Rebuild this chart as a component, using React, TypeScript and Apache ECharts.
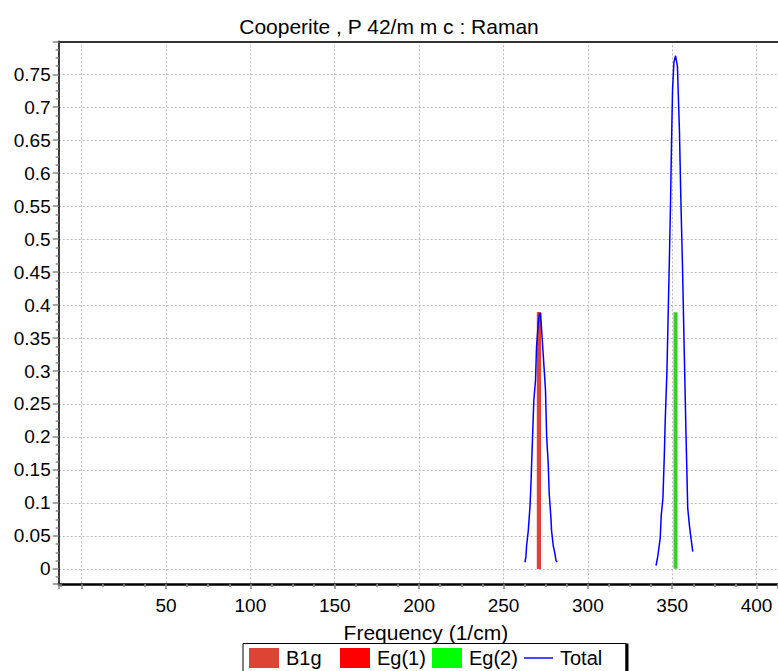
import React, { useEffect, useRef } from "react";
import * as echarts from "echarts";

const chartTitle = "Cooperite , P 42/m m c : Raman";
const xAxisName = "Frequency (1/cm)";

const modeNames = ["Eg(1)", "Eg(2)", "B1g"];
const modeFreqs = [271, 352, 271];
const modeIntensities = [0.389, 0.389, 0.389];
const modeColors = ["#FF0000", "#3ACC28", "#DC4433"];

const legendNames = ["B1g", "Eg(1)", "Eg(2)", "Total"];
const legendColors = ["#DC4433", "#FF0000", "#00FF00", "#0000FF"];

const totalFreq1 = [262.7, 263.3, 263.7, 264.7, 265.7, 266.3, 266.7, 267.3, 268.0, 269.0, 269.6, 270.6, 271.2, 272.0, 272.6, 273.5, 274.9, 275.6, 276.5, 277.1, 278.1, 278.5, 279.5, 280.5, 281.1, 281.8];
const totalVal1 = [0.010, 0.018, 0.035, 0.058, 0.094, 0.129, 0.160, 0.205, 0.256, 0.286, 0.337, 0.372, 0.385, 0.388, 0.362, 0.327, 0.271, 0.200, 0.160, 0.114, 0.078, 0.058, 0.035, 0.023, 0.013, 0.010];

const totalFreq2 = [340.4, 341.4, 342.9, 343.5, 344.5, 345.3, 345.9, 346.9, 347.6, 348.4, 349.0, 349.6, 350.2, 351.0, 352.0, 353.1, 354.3, 355.1, 356.1, 357.1, 358.2, 359.2, 360.2, 361.2, 362.2];
const totalVal2 = [0.005, 0.018, 0.047, 0.081, 0.107, 0.170, 0.228, 0.301, 0.385, 0.479, 0.553, 0.647, 0.726, 0.768, 0.778, 0.762, 0.663, 0.563, 0.458, 0.333, 0.202, 0.092, 0.066, 0.045, 0.026];

const FONT = "'Liberation Sans', Arial, Helvetica, sans-serif";

export default function App() {
  const ref = useRef<HTMLDivElement>(null);

  useEffect(() => {
    if (!ref.current) return;
    const chart = echarts.init(ref.current, null, { renderer: "svg" });

    const xMin = -13.6;
    const xMax = 412.7;
    const yMin = -0.023;
    const yMax = 0.8;

    const barSeries = modeNames.map((name, i) => ({
      type: "bar",
      name,
      data: [[modeFreqs[i], modeIntensities[i]]],
      barWidth: 4,
      barGap: "-100%",
      itemStyle: { color: modeColors[i] },
      z: 2,
    }));

    const lineSeries = [
      totalFreq1.map((f, i) => [f, totalVal1[i]]),
      totalFreq2.map((f, i) => [f, totalVal2[i]]),
    ].map((data) => ({
      type: "line",
      name: "Total",
      data,
      showSymbol: false,
      symbol: "none",
      lineStyle: { color: "#0000FF", width: 1.5 },
      itemStyle: { color: "#0000FF" },
      z: 3,
    }));

    const legendLefts = [249, 340, 432, 524];
    const legends = legendNames.map((name, i) => ({
      data: [
        name === "Total"
          ? { name, icon: "path://M0,0L30,0L30,1.5L0,1.5Z", itemStyle: { color: legendColors[i] } }
          : { name, icon: "rect", itemStyle: { color: legendColors[i] } },
      ],
      left: legendLefts[i],
      top: 648,
      padding: 0,
      itemWidth: name === "Total" ? 29 : 30,
      itemHeight: 20,
      selectedMode: false,
      textStyle: { fontSize: 20, color: "#000", fontFamily: FONT, padding: [0, 0, 0, 2] },
    }));

    chart.setOption({
      animation: false,
      backgroundColor: "#fff",
      title: {
        text: chartTitle,
        left: "center",
        top: 11,
        textStyle: { fontSize: 21, fontWeight: "normal", color: "#000", fontFamily: FONT },
      },
      grid: { left: 58.7, right: 0, top: 41.3, bottom: 87, containLabel: false },
      legend: legends,
      xAxis: [
        {
          type: "value",
          min: xMin,
          max: xMax,
          minInterval: 50,
          maxInterval: 50,
          splitNumber: 9,
          position: "bottom",
          name: xAxisName,
          nameLocation: "middle",
          nameGap: 38,
          nameTextStyle: { fontSize: 21, color: "#000", fontFamily: FONT, padding: [0, 0, 0, 15] },
          axisLine: { show: true, onZero: false, lineStyle: { color: "#000", width: 2.5 } },
          axisTick: { show: true, inside: false, length: 5, lineStyle: { color: "#888", width: 1.5 } },
          minorTick: { show: true, splitNumber: 4, length: 3, lineStyle: { color: "#888", width: 1.5 } },
          axisLabel: {
            fontSize: 19,
            color: "#000",
            fontFamily: FONT,
            margin: 12,
            showMinLabel: false,
            showMaxLabel: false,
            formatter: (v: number) => (v === 0 ? "" : String(v)),
          },
          splitLine: { show: true, lineStyle: { color: "#bbb", type: [2, 2], width: 1 } },
        },
        {
          type: "value",
          min: xMin,
          max: xMax,
          position: "top",
          axisLine: { show: true, onZero: false, lineStyle: { color: "#333", width: 2 } },
          axisTick: { show: false },
          axisLabel: { show: false },
          splitLine: { show: false },
        },
      ],
      yAxis: {
        type: "value",
        min: yMin,
        max: yMax,
        minInterval: 0.05,
        maxInterval: 0.05,
        splitNumber: 16,
        axisLine: { show: true, onZero: false, lineStyle: { color: "#000", width: 1.5 } },
        axisTick: { show: true, inside: false, length: 6, lineStyle: { color: "#888", width: 1.5 } },
        minorTick: { show: true, splitNumber: 4, length: 3, lineStyle: { color: "#888", width: 1.5 } },
        axisLabel: {
          fontSize: 19,
          color: "#000",
          fontFamily: FONT,
          margin: 8,
          showMinLabel: false,
          showMaxLabel: false,
        },
        splitLine: { show: true, lineStyle: { color: "#bbb", type: [2, 2], width: 1 } },
      },
      graphic: [
        {
          type: "rect",
          shape: { x: 243, y: 643.5, width: 383, height: 40 },
          style: { fill: "none", stroke: "#000", lineWidth: 1 },
          silent: true,
        },
        {
          type: "line",
          shape: { x1: 627, y1: 643.5, x2: 627, y2: 671 },
          style: { stroke: "#000", lineWidth: 3 },
          silent: true,
        },
      ],
      series: [...barSeries, ...lineSeries],
    });

    return () => chart.dispose();
  }, []);

  return (
    <div
      ref={ref}
      style={{ position: "fixed", left: 0, top: 0, width: 778, height: 671 }}
    />
  );
}
